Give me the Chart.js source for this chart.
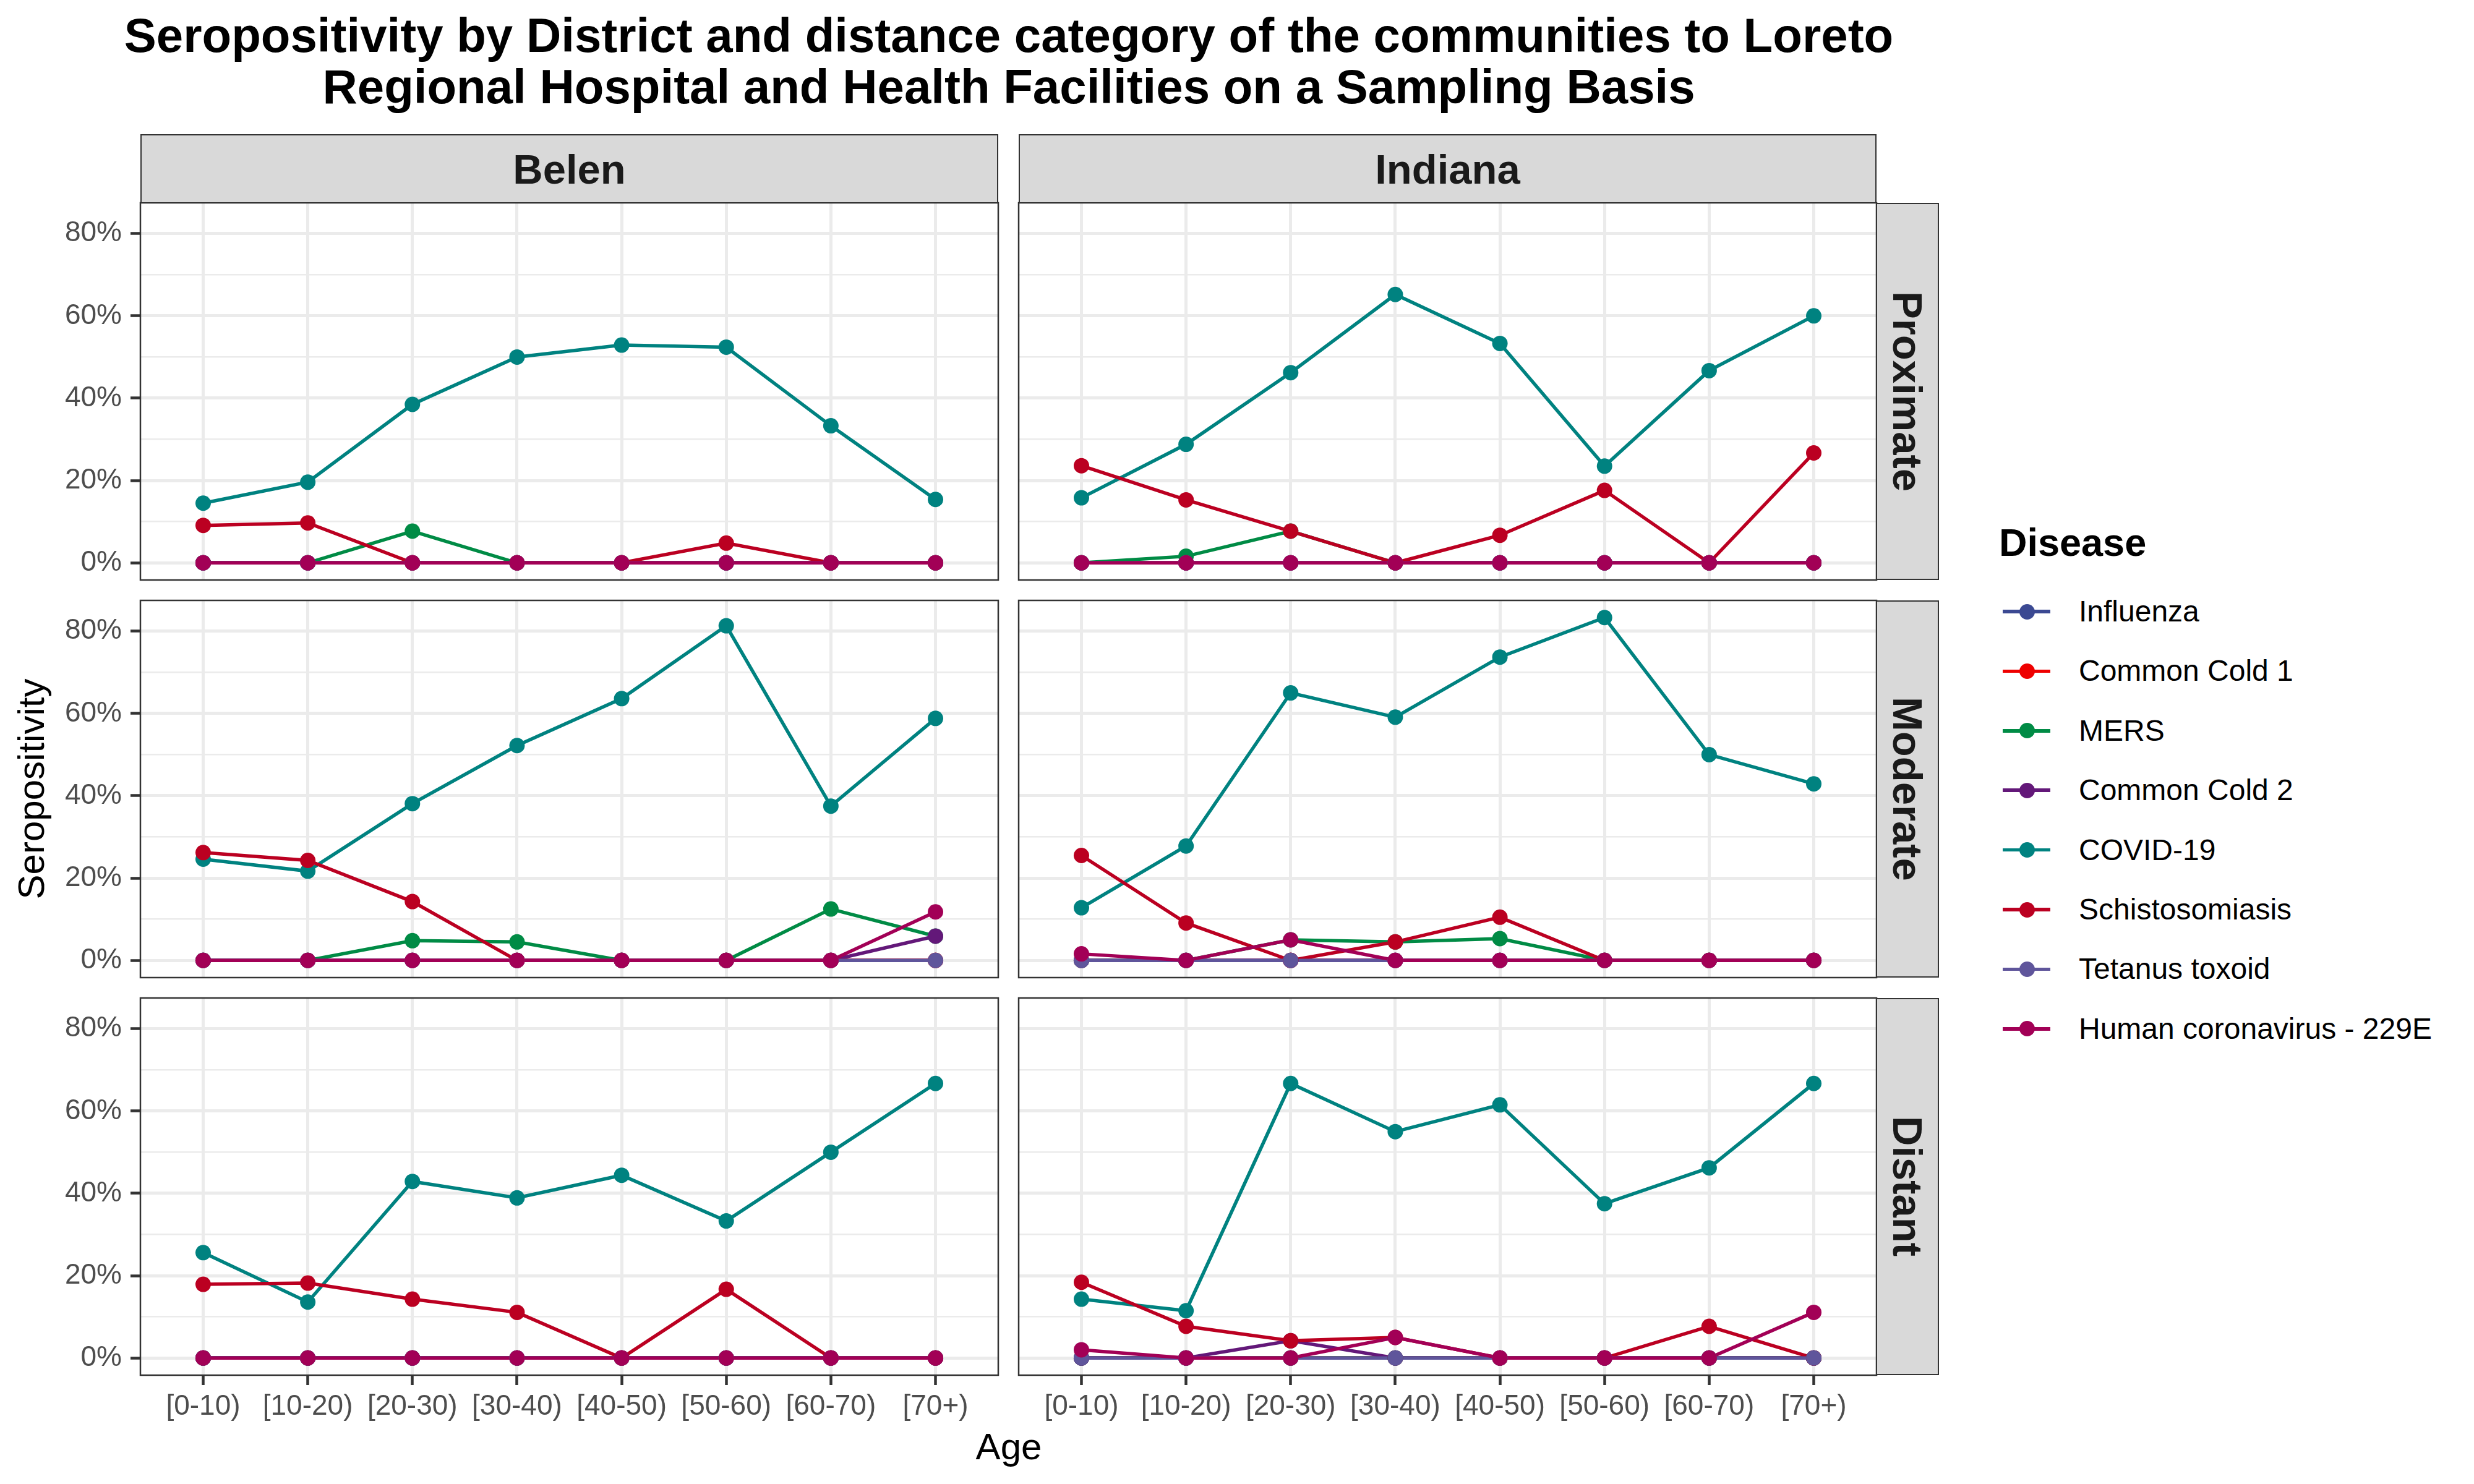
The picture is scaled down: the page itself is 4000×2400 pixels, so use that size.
<!DOCTYPE html>
<html>
<head>
<meta charset="utf-8">
<script src="https://cdn.jsdelivr.net/npm/chart.js@4.4.1/dist/chart.umd.min.js"></script>
<style>
html,body{margin:0;padding:0;background:#fff;}
#root{position:relative;width:4000px;height:2400px;background:#fff;font-family:"Liberation Sans",Arial,sans-serif;overflow:hidden;}
.abs{position:absolute;white-space:nowrap;}
.strip{position:absolute;background:#D9D9D9;border:2.5px solid #333333;box-sizing:border-box;display:flex;align-items:center;justify-content:center;font-weight:bold;font-size:67px;color:#1A1A1A;line-height:1;}
.vstrip{writing-mode:vertical-rl;}
canvas{position:absolute;}
</style>
</head>
<body>
<div id="root"></div>
<script>
// ---------------- data ----------------
const ageGroups = ['[0-10)','[10-20)','[20-30)','[30-40)','[40-50)','[50-60)','[60-70)','[70+)'];
const diseases = ['Influenza','Common Cold 1','MERS','Common Cold 2','COVID-19','Schistosomiasis','Tetanus toxoid','Human coronavirus - 229E'];
const districts = ['Belen','Indiana'];
const distanceCategories = ['Proximate','Moderate','Distant'];
const yBreaks = [0,20,40,60,80];
const yMinorBreaks = [10,30,50,70];

// seropositivity (%) per disease (rows in the order of `diseases`) and age group
const belenProximate = [
  [0,0,0,0,0,0,0,0],
  [0,0,0,0,0,0,0,0],
  [0,0,7.7,0,0,0,0,0],
  [0,0,0,0,0,0,0,0],
  [14.5,19.6,38.5,50.0,52.9,52.4,33.3,15.4],
  [9.1,9.7,0,0,0,4.8,0,0],
  [0,0,0,0,0,0,0,0],
  [0,0,0,0,0,0,0,0]
];
const indianaProximate = [
  [0,0,0,0,0,0,0,0],
  [0,0,0,0,0,0,0,0],
  [0,1.6,7.7,0,0,0,0,0],
  [0,0,0,0,0,0,0,0],
  [15.8,28.8,46.2,65.2,53.3,23.5,46.7,60.0],
  [23.6,15.3,7.7,0,6.7,17.6,0,26.7],
  [0,0,0,0,0,0,0,0],
  [0,0,0,0,0,0,0,0]
];
const belenModerate = [
  [0,0,0,0,0,0,0,0],
  [0,0,0,0,0,0,0,0],
  [0,0,4.8,4.5,0,0,12.5,5.9],
  [0,0,0,0,0,0,0,5.9],
  [24.6,21.7,38.1,52.2,63.6,81.3,37.5,58.8],
  [26.2,24.3,14.3,0,0,0,0,0],
  [0,0,0,0,0,0,0,0],
  [0,0,0,0,0,0,0,11.8]
];
const indianaModerate = [
  [0,0,0,0,0,0,0,0],
  [0,0,0,0,0,0,0,0],
  [0,0,5.0,4.5,5.3,0,0,0],
  [0,0,0,0,0,0,0,0],
  [12.8,27.8,65.0,59.1,73.7,83.3,50.0,42.9],
  [25.5,9.1,0,4.5,10.5,0,0,0],
  [0,0,0,0,0,0,0,0],
  [1.6,0,5.0,0,0,0,0,0]
];
const belenDistant = [
  [0,0,0,0,0,0,0,0],
  [0,0,0,0,0,0,0,0],
  [0,0,0,0,0,0,0,0],
  [0,0,0,0,0,0,0,0],
  [25.6,13.6,42.9,38.9,44.4,33.3,50.0,66.7],
  [17.9,18.2,14.3,11.1,0,16.7,0,0],
  [0,0,0,0,0,0,0,0],
  [0,0,0,0,0,0,0,0]
];
const indianaDistant = [
  [0,0,0,0,0,0,0,0],
  [0,0,0,0,0,0,0,0],
  [0,0,0,0,0,0,0,0],
  [0,0,4.2,0,0,0,0,0],
  [14.3,11.5,66.7,55.0,61.5,37.5,46.2,66.7],
  [18.4,7.7,4.2,5.0,0,0,7.7,0],
  [0,0,0,0,0,0,0,0],
  [2.0,0,0,5.0,0,0,0,11.1]
];

// ---------------- styles / layout ----------------
const diseaseColors = ['#3B4992','#EE0000','#008B45','#631879','#008280','#BB0021','#5F559B','#A20056'];
const panelGrid = [[belenProximate, indianaProximate],[belenModerate, indianaModerate],[belenDistant, indianaDistant]];
const colX = [227, 1647];
const panelW = 1387;
const rowY = [328, 971, 1614];
const panelH = 610;
const L = 200, B = 130, T = 10, R = 10;
const FONT = '"Liberation Sans", Arial, sans-serif';

const root = document.getElementById('root');
function addDiv(cls, style, html) {
  const d = document.createElement('div');
  d.className = cls;
  Object.assign(d.style, style);
  d.innerHTML = html;
  root.appendChild(d);
  return d;
}

// shared y range like ggplot (5% expansion of data range)
let yMaxData = 0;
panelGrid.forEach(r => r.forEach(p => p.forEach(s => s.forEach(v => { if (v > yMaxData) yMaxData = v; }))));
const yExp = yMaxData * 0.05;
const yMin = 0 - yExp, yMax = yMaxData + yExp;

const panelBorder = {
  id: 'panelBorder',
  afterDraw(chart) {
    const {ctx, chartArea: a} = chart;
    ctx.save();
    ctx.strokeStyle = '#333333';
    ctx.lineWidth = 2.5;
    ctx.strokeRect(a.left, a.top, a.right - a.left, a.bottom - a.top);
    ctx.restore();
  }
};

function zeroPad(s) { s.paddingTop = 0; s.paddingBottom = 0; s.paddingLeft = 0; s.paddingRight = 0; }

function makePanel(r, c) {
  const values = panelGrid[r][c];
  const showY = c === 0, showX = r === 2;
  const cv = document.createElement('canvas');
  const W = L + panelW + R, H = T + panelH + B;
  cv.width = W; cv.height = H;
  cv.style.left = (colX[c] - L) + 'px';
  cv.style.top = (rowY[r] - T) + 'px';
  cv.style.width = W + 'px'; cv.style.height = H + 'px';
  root.appendChild(cv);

  const datasets = [];
  diseases.forEach((name, i) => {
    const pts = values[i].map((v, k) => ({x: k, y: v}));
    datasets.push({
      label: name, data: pts, borderColor: diseaseColors[i], backgroundColor: diseaseColors[i],
      borderWidth: 5.5, pointRadius: 0, tension: 0, order: 100 + (diseases.length - i), clip: false
    });
  });
  diseases.forEach((name, i) => {
    const pts = values[i].map((v, k) => ({x: k, y: v}));
    datasets.push({
      label: name + ' points', data: pts, showLine: false, borderColor: diseaseColors[i],
      pointBackgroundColor: diseaseColors[i], pointBorderWidth: 0, pointRadius: 12.5,
      order: diseases.length - i, clip: false
    });
  });

  new Chart(cv, {
    type: 'line',
    data: {datasets},
    options: {
      responsive: false, animation: false, devicePixelRatio: 1,
      layout: {autoPadding: false, padding: {top: T, right: R, left: 0, bottom: 0}},
      plugins: {legend: {display: false}, tooltip: {enabled: false}},
      scales: {
        x: {
          type: 'linear', min: -0.6, max: 7.6,
          afterBuildTicks: s => { s.ticks = ageGroups.map((_, k) => ({value: k})); },
          afterFit: s => { s.height = B; zeroPad(s); },
          border: {display: false},
          grid: {color: '#EBEBEB', lineWidth: 5, drawTicks: showX, tickLength: 16, tickColor: '#333333', tickWidth: 4.5},
          ticks: {display: showX, autoSkip: false, maxRotation: 0, minRotation: 0, padding: 8,
                  color: '#4D4D4D', font: {family: FONT, size: 46},
                  callback: v => ageGroups[v]}
        },
        y: {
          type: 'linear', min: yMin, max: yMax,
          afterBuildTicks: s => { s.ticks = yBreaks.concat(yMinorBreaks).sort((a, b) => a - b).map(v => ({value: v})); },
          afterFit: s => { s.width = L; zeroPad(s); },
          border: {display: false},
          grid: {
            color: '#EBEBEB',
            lineWidth: ctx => (ctx.tick && yBreaks.includes(ctx.tick.value)) ? 5 : 2.5,
            drawTicks: showY, tickLength: 16, tickWidth: 4.5,
            tickColor: ctx => (ctx.tick && yBreaks.includes(ctx.tick.value)) ? '#333333' : 'rgba(0,0,0,0)'
          },
          ticks: {display: showY, autoSkip: false, padding: 14, color: '#4D4D4D', font: {family: FONT, size: 46},
                  callback: v => yBreaks.includes(v) ? v + '%' : ''}
        }
      }
    },
    plugins: [panelBorder]
  });
}

for (let r = 0; r < 3; r++) for (let c = 0; c < 2; c++) makePanel(r, c);

// strips
districts.forEach((d, c) => {
  addDiv('strip', {left: colX[c] + 'px', top: '217px', width: panelW + 'px', height: (rowY[0] - 217 + 1) + 'px'}, d);
});
distanceCategories.forEach((d, r) => {
  addDiv('strip vstrip', {left: (colX[1] + panelW - 1) + 'px', top: rowY[r] + 'px', width: '102px', height: panelH + 'px'}, d);
});

// title
addDiv('abs', {left: '0px', top: '16px', width: '3262px', textAlign: 'center', fontSize: '78px', fontWeight: 'bold',
  lineHeight: '83px', color: '#000'},
  'Seropositivity by District and distance category of the communities to Loreto<br>Regional Hospital and Health Facilities on a Sampling Basis');

// axis titles
addDiv('abs', {left: '0px', top: (2361 - 0.8465 * 60) + 'px', width: '3262px', textAlign: 'center', fontSize: '60px', lineHeight: '60px', color: '#000'}, 'Age');
addDiv('abs', {left: (51 - 300) + 'px', top: (1276 - 30) + 'px', width: '600px', height: '60px', textAlign: 'center', fontSize: '60px', lineHeight: '60px', color: '#000', transform: 'rotate(-90deg)', transformOrigin: '50% 50%'}, 'Seropositivity');

// legend
addDiv('abs', {left: '3232px', top: (877.5 - 31.5) + 'px', fontSize: '63px', fontWeight: 'bold', lineHeight: '63px', color: '#000'}, 'Disease');
diseases.forEach((name, i) => {
  const cy = 989 + i * 96.4;
  addDiv('abs', {left: '3238px', top: (cy - 2.75) + 'px', width: '77px', height: '5.5px', background: diseaseColors[i]}, '');
  addDiv('abs', {left: (3277 - 12.5) + 'px', top: (cy - 12.5) + 'px', width: '25px', height: '25px', borderRadius: '50%', background: diseaseColors[i]}, '');
  addDiv('abs', {left: '3361px', top: (cy - 24) + 'px', fontSize: '48px', lineHeight: '48px', color: '#000'}, name);
});
</script>
</body>
</html>
